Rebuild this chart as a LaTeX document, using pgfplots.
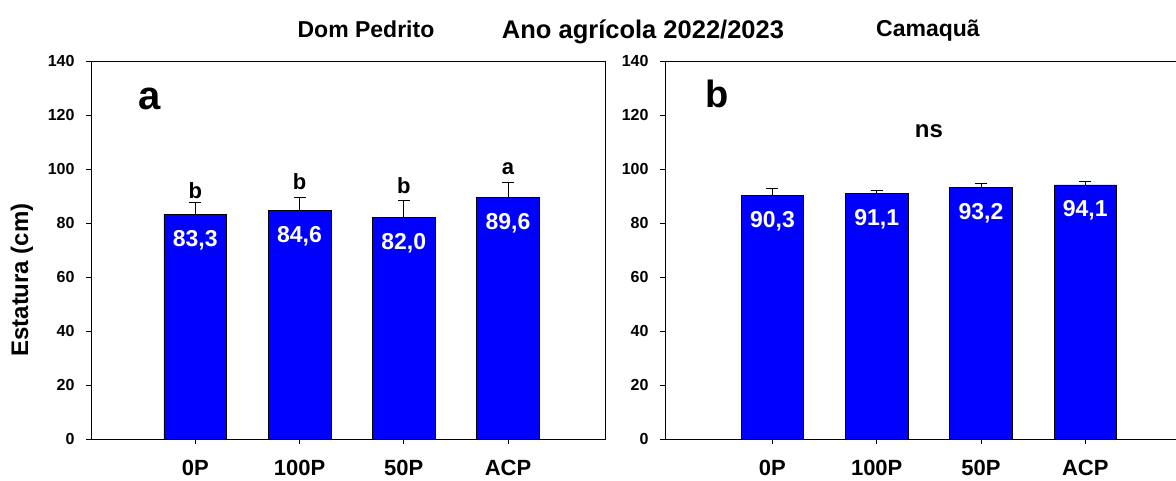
\documentclass[border=0pt]{standalone}
\usepackage{pgfplots}
\pgfplotsset{compat=1.18}
\usepackage{fontspec}
\setmainfont{Liberation Sans}
\pgfkeys{/pgf/number format/assume math mode=true}
\definecolor{barblue}{RGB}{0,0,255}
\newcommand{\fs}[1]{\fontsize{#1}{#1}\selectfont\bfseries}
\begin{document}
\begin{tikzpicture}
\pgfplotsset{
  myax/.style={
    scale only axis, height=378pt, anchor=south west,
    ymin=0, ymax=140, ytick={0,20,...,140},
    xtick={0,1,2,3}, xticklabels={0P,100P,50P,ACP},
    tick align=outside, xtick pos=bottom, ytick pos=left,
    major tick length=5pt,
    axis line style={black, line width=0.8pt},
    every tick/.style={black, line width=0.8pt},
    yticklabel style={font=\fs{16}, xshift=-8pt},
    xticklabel style={font=\fs{22}, yshift=-13pt},
    ybar, bar width=0.6,
    nodes near coords={\pgfmathprintnumber[use comma,fixed,fixed zerofill,precision=1]{\pgfplotspointmeta}},
    every node near coord/.append style={anchor=base, yshift=-32pt, text=white, font=\fs{23}},
  },
  mybar/.style={fill=barblue, draw=black, line width=0.6pt,
    error bars/.cd, y dir=plus, y explicit,
    error bar style={black, line width=0.8pt},
    error mark options={rotate=90, mark size=6pt, black, line width=0.8pt}},
}
% left panel
\begin{axis}[myax, width=514pt, at={(91pt,42pt)}, xmin=-1.0, xmax=3.93]
\addplot[mybar] coordinates {(0,83.3) +- (0,4.2) (1,84.6) +- (0,4.9) (2,82.0) +- (0,6.4) (3,89.6) +- (0,5.5)};
\node[font=\fs{22}, anchor=base] at (axis cs:0,89.2) {b};
\node[font=\fs{22}, anchor=base] at (axis cs:1,92.5) {b};
\node[font=\fs{22}, anchor=base] at (axis cs:2,91.0) {b};
\node[font=\fs{22}, anchor=base] at (axis cs:3,98.0) {a};
\end{axis}
% right panel
\begin{axis}[myax, width=518pt, at={(665pt,42pt)}, xmin=-1.03, xmax=3.937]
\addplot[mybar] coordinates {(0,90.3) +- (0,2.5) (1,91.1) +- (0,1.0) (2,93.2) +- (0,1.5) (3,94.1) +- (0,1.3)};
\node[font=\fs{24}, anchor=base] at (axis cs:1.5,111.5) {ns};
\end{axis}
\node[font=\fs{23}, anchor=base] at (366pt,443.7pt) {Dom Pedrito};
\node[font=\fs{25.5}, anchor=base] at (643pt,442.7pt) {Ano agrícola 2022/2023};
\node[font=\fs{23}, anchor=base] at (928pt,444pt) {Camaquã};
\node[font=\fs{40}, anchor=base west, inner sep=0pt] at (138pt,371pt) {a};
\node[font=\fs{38}, anchor=base west, inner sep=0pt] at (705pt,373pt) {b};
\node[font=\fs{24}, rotate=90, anchor=center] at (22pt,201pt) {Estatura (cm)};
\pgfresetboundingbox
\path[use as bounding box] (0pt,0pt) rectangle (1176pt,481pt);
\end{tikzpicture}
\end{document}
